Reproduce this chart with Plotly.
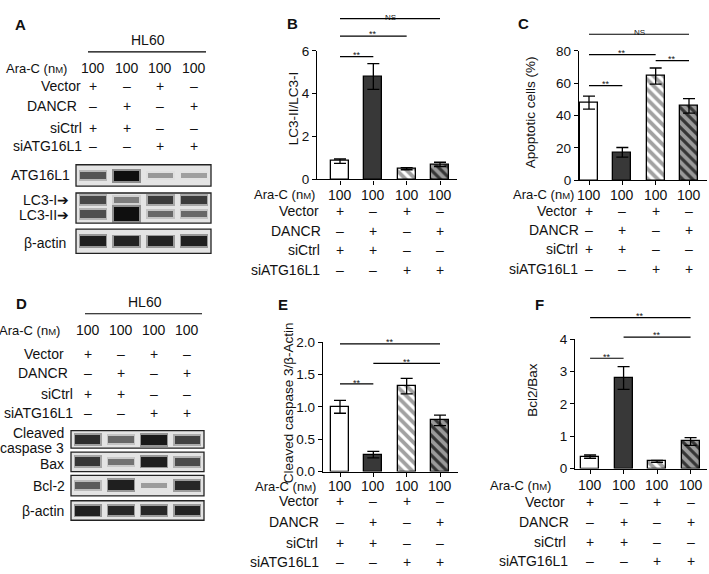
import plotly.graph_objects as go

W, H = 709, 574
FONT = "Liberation Sans, Arial, sans-serif"

# ---------------- data ----------------
lanes = [1, 2, 3, 4]
groups = [0, 1, 2, 3]
ara_c = ["100", "100", "100", "100"]
vector = ["+", "–", "+", "–"]
dancr = ["–", "+", "–", "+"]
sictrl = ["+", "+", "–", "–"]
siatg16l1 = ["–", "–", "+", "+"]

# western blot band densities (relative, read by eye)
atg16l1_bands = [0.65, 1.0, 0.32, 0.28]
lc3_i_bands = [0.72, 0.45, 0.78, 0.78]
lc3_ii_bands = [0.68, 1.45, 0.55, 0.55]
actin_a_bands = [0.92, 0.9, 0.9, 0.92]
casp3_bands = [0.85, 0.55, 0.95, 0.75]
bax_bands = [0.8, 0.5, 0.92, 0.7]
bcl2_bands = [0.62, 0.92, 0.3, 0.88]
actin_d_bands = [0.92, 0.88, 0.88, 0.9]

lc3_ratio = [0.85, 4.8, 0.5, 0.7]
lc3_ratio_err = [0.1, 0.6, 0.05, 0.1]
apoptotic = [48, 17.3, 64.4, 46]
apoptotic_err = [4, 3, 5, 4.5]
casp3_ratio = [1.0, 0.26, 1.32, 0.79]
casp3_ratio_err = [0.1, 0.05, 0.12, 0.08]
bcl2_bax = [0.37, 2.8, 0.22, 0.84]
bcl2_bax_err = [0.05, 0.35, 0.03, 0.12]

sig_b = [(0, 1, "**"), (0, 2, "**"), (0, 3, "NS")]
sig_c = [(0, 1, "**"), (0, 2, "**"), (2, 3, "**"), (0, 3, "NS")]
sig_e = [(0, 1, "**"), (1, 3, "**"), (0, 3, "**")]
sig_f = [(0, 1, "**"), (1, 3, "**"), (0, 3, "**")]

ROW_NAMES = ["Ara-C (n<span style='font-size:9.5px'>M</span>)",
             "Vector", "DANCR", "siCtrl", "siATG16L1"]
ROWS = [ara_c, vector, dancr, sictrl, siatg16l1]

BAR_FILL = ["white", "#383838", "white", "#353535"]
BAR_HATCH = ["", "", "\\", "\\"]
BAR_HATCH_FG = ["black", "black", "black", "#000000"]


def px(x):
    return x / W


def py(y):
    return 1 - y / H


def ax(n):
    return ("x", "y") if n == 1 else (f"x{n}", f"y{n}")


fig = go.Figure()
layout = {}
shapes = []
annotations = []


def label(x, y, s, size=13.5, xanchor="center", xref="paper", angle=0):
    annotations.append(dict(x=x, y=y, xref=xref, yref="paper", text=s,
                            showarrow=False, xanchor=xanchor, yanchor="middle",
                            textangle=angle, borderpad=0,
                            font=dict(size=size, family=FONT, color="#111")))


def condition_table(xref, xs, row_y, label_right, size=14):
    for k, (name, vals, y, xr) in enumerate(zip(ROW_NAMES, ROWS, row_y, label_right)):
        # the Ara-C label is set a little smaller in the original
        label(px(xr), py(y), name, size=size - 1 if k == 0 else size, xanchor="right")
        for xv, v in zip(xs, vals):
            label(xv, py(y), v, size=size, xref=xref)


def gray(level):
    level = int(max(0, min(255, level)))
    return f"rgb({level},{level},{level})"


def blot(n, box, rows):
    left, right, bottom, top = box
    xn, yn = ax(n)
    key = "" if n == 1 else str(n)
    layout["xaxis" + key] = dict(domain=[px(left), px(right)], range=[0.5, 4.5],
                                 anchor=yn, visible=False, fixedrange=True)
    layout["yaxis" + key] = dict(domain=[py(bottom), py(top)], range=[0, 1],
                                 anchor=xn, visible=False, fixedrange=True)
    shapes.append(dict(type="rect", xref=f"{xn} domain", yref=f"{yn} domain",
                       x0=0, x1=1, y0=0, y1=1, layer="below",
                       fillcolor="#e4e4e4", line=dict(color="#222", width=1.3)))
    hpx = bottom - top
    for dens, yc in rows:
        core = [(2.5 + 8 * d) / hpx for d in dens]
        halo = [(6.5 + 8 * d) / hpx for d in dens]
        core_col = [gray(215 - 200 * min(d, 1)) for d in dens]
        halo_col = [gray(min(225, 285 - 200 * min(d, 1))) for d in dens]
        fig.add_trace(go.Bar(x=lanes, y=halo, base=[yc - h / 2 for h in halo],
                             width=0.84, xaxis=xn, yaxis=yn, opacity=0.6,
                             marker=dict(color=halo_col, line=dict(width=0)),
                             showlegend=False, hoverinfo="skip"))
        fig.add_trace(go.Bar(x=lanes, y=core, base=[yc - h / 2 for h in core],
                             width=0.76, xaxis=xn, yaxis=yn,
                             marker=dict(color=core_col, line=dict(width=0)),
                             showlegend=False, hoverinfo="skip"))


def bar_panel(n, vals, errs, box, yrange, dtick, xrange, tickformat=None):
    left, right, bottom, top = box
    xn, yn = ax(n)
    key = "" if n == 1 else str(n)
    layout["xaxis" + key] = dict(domain=[px(left), px(right)], range=xrange, anchor=yn,
                                 showline=True, linecolor="black", linewidth=1.3,
                                 ticks="outside", ticklen=4, tickwidth=1.3,
                                 tickcolor="black", tickvals=groups,
                                 showticklabels=False, showgrid=False,
                                 zeroline=False, fixedrange=True)
    layout["yaxis" + key] = dict(domain=[py(bottom), py(top)], range=yrange, anchor=xn,
                                 dtick=dtick, tickformat=tickformat,
                                 showline=True, linecolor="black", linewidth=1.3,
                                 ticks="outside", ticklen=4, tickwidth=1.3,
                                 tickcolor="black", showgrid=False, zeroline=False,
                                 tickfont=dict(size=13.5, family=FONT, color="#111"),
                                 fixedrange=True)
    fig.add_trace(go.Bar(
        x=groups, y=vals, width=0.54, xaxis=xn, yaxis=yn, showlegend=False,
        marker=dict(color=BAR_FILL, line=dict(color="black", width=1.3),
                    pattern=dict(shape=BAR_HATCH, fgcolor=BAR_HATCH_FG,
                                 bgcolor=BAR_FILL, size=7, solidity=0.55)),
        error_y=dict(type="data", array=errs, color="black",
                     thickness=1.3, width=6)))


def sig_marks(n, sigs, line_px, text_px, box):
    left, right, bottom, top = box
    xn, yn = ax(n)
    h = bottom - top
    for (i, j, s), ly, ty in zip(sigs, line_px, text_px):
        shapes.append(dict(type="line", xref=xn, yref=f"{yn} domain",
                           x0=i, x1=j, y0=(bottom - ly) / h, y1=(bottom - ly) / h,
                           line=dict(color="black", width=1.2)))
        annotations.append(dict(x=(i + j) / 2, y=(bottom - ty) / h, xref=xn,
                                yref=f"{yn} domain", text=s, showarrow=False,
                                font=dict(size=9 if s == "**" else 8,
                                          family=FONT, color="#111")))


# ---------------- panel A ----------------
label(px(20), py(18), "<b>A</b>", size=15)
label(px(148), py(34), "HL60", size=14)
shapes.append(dict(type="line", xref="paper", yref="paper", x0=px(88), x1=px(206),
                   y0=py(46), y1=py(46), line=dict(color="black", width=1.2)))
blot(1, (76, 211, 184, 162), [(atg16l1_bands, 0.5)])
blot(2, (76, 211, 222, 191), [(lc3_i_bands, 0.77), (lc3_ii_bands, 0.3)])
blot(3, (76, 211, 253, 228), [(actin_a_bands, 0.5)])
condition_table("x", lanes, [63, 81, 102, 124, 143], [68, 82, 78, 83, 83])
label(px(71), py(173), "ATG16L1", size=14, xanchor="right")
label(px(70), py(198), "LC3-I➔", size=14, xanchor="right")
label(px(70), py(214), "LC3-II➔", size=14, xanchor="right")
label(px(67), py(242), "β-actin", size=14, xanchor="right")

# ---------------- panel D ----------------
label(px(21), py(304), "<b>D</b>", size=15)
label(px(145), py(303), "HL60", size=14)
shapes.append(dict(type="line", xref="paper", yref="paper", x0=px(85), x1=px(202),
                   y0=py(315), y1=py(315), line=dict(color="black", width=1.2)))
blot(4, (71, 204, 453, 435), [(casp3_bands, 0.5)])
blot(5, (71, 204, 477, 457), [(bax_bands, 0.5)])
blot(6, (71, 204, 502, 481), [(bcl2_bands, 0.5)])
blot(7, (71, 204, 527, 507), [(actin_d_bands, 0.5)])
condition_table("x4", lanes, [332, 356, 376, 397, 417], [61, 65, 69, 74, 74])
label(px(65), py(437), "Cleaved", size=14, xanchor="right")
label(px(65), py(453), "caspase 3", size=14, xanchor="right")
label(px(65), py(469), "Bax", size=14, xanchor="right")
label(px(66), py(492), "Bcl-2", size=14, xanchor="right")
label(px(65), py(518), "β-actin", size=14, xanchor="right")

# ---------------- panel B ----------------
box_b = (317, 457, 177, 45)
label(px(292), py(17), "<b>B</b>", size=15)
bar_panel(8, lc3_ratio, lc3_ratio_err, box_b, [0, 6], 2, [-0.69, 3.51])
sig_marks(8, sig_b, [51, 30, 12], [42, 21, 4], box_b)
label(px(293), py(104), "LC3-II/LC3-I", angle=-90)
condition_table("x8", groups, [193, 209, 230, 250, 270], [316, 320, 322, 321, 321])

# ---------------- panel C ----------------
box_c = (579, 707, 178, 45)
label(px(523), py(17), "<b>C</b>", size=15)
bar_panel(9, apoptotic, apoptotic_err, box_c, [0, 80], 20, [-0.3, 3.54])
sig_marks(9, sig_c, [80.7, 49, 55, 28], [72, 40, 46, 19], box_c)
label(px(530), py(108), "Apoptotic cells (%)", angle=-90)
condition_table("x9", groups, [193, 209, 229, 249, 269], [575, 578, 580, 579, 579])

# ---------------- panel E ----------------
box_e = (323, 458, 477, 344)
label(px(283), py(305), "<b>E</b>", size=15)
bar_panel(10, casp3_ratio, casp3_ratio_err, box_e, [0, 2], 0.5, [-0.51, 3.54], ".1f")
sig_marks(10, sig_e, [387, 366, 346], [379, 357, 337], box_e)
label(px(288), py(407), "Cleaved caspase 3/β-Actin", angle=-90)
condition_table("x10", groups, [492, 507, 529, 550, 570], [317, 320, 320, 319, 320])

# ---------------- panel F ----------------
box_f = (575, 707, 474, 341)
label(px(539), py(305), "<b>F</b>", size=15)
bar_panel(11, bcl2_bax, bcl2_bax_err, box_f, [0, 4], 1, [-0.45, 3.49])
sig_marks(11, sig_f, [360.7, 339, 319], [352, 330, 310], box_f)
label(px(533), py(393), "Bcl2/Bax", angle=-90)
condition_table("x11", groups, [491, 508, 529, 549, 569], [552, 566, 570, 567, 569])

fig.update_layout(**layout)
fig.update_layout(width=W, height=H, margin=dict(l=0, r=0, t=0, b=0),
                  paper_bgcolor="white", plot_bgcolor="white",
                  barmode="overlay", bargap=0, showlegend=False,
                  font=dict(family=FONT, color="#111"),
                  shapes=shapes, annotations=annotations)
fig.write_html("out.html", config={"displayModeBar": False},
               post_script="document.body.style.margin = '0px';")
